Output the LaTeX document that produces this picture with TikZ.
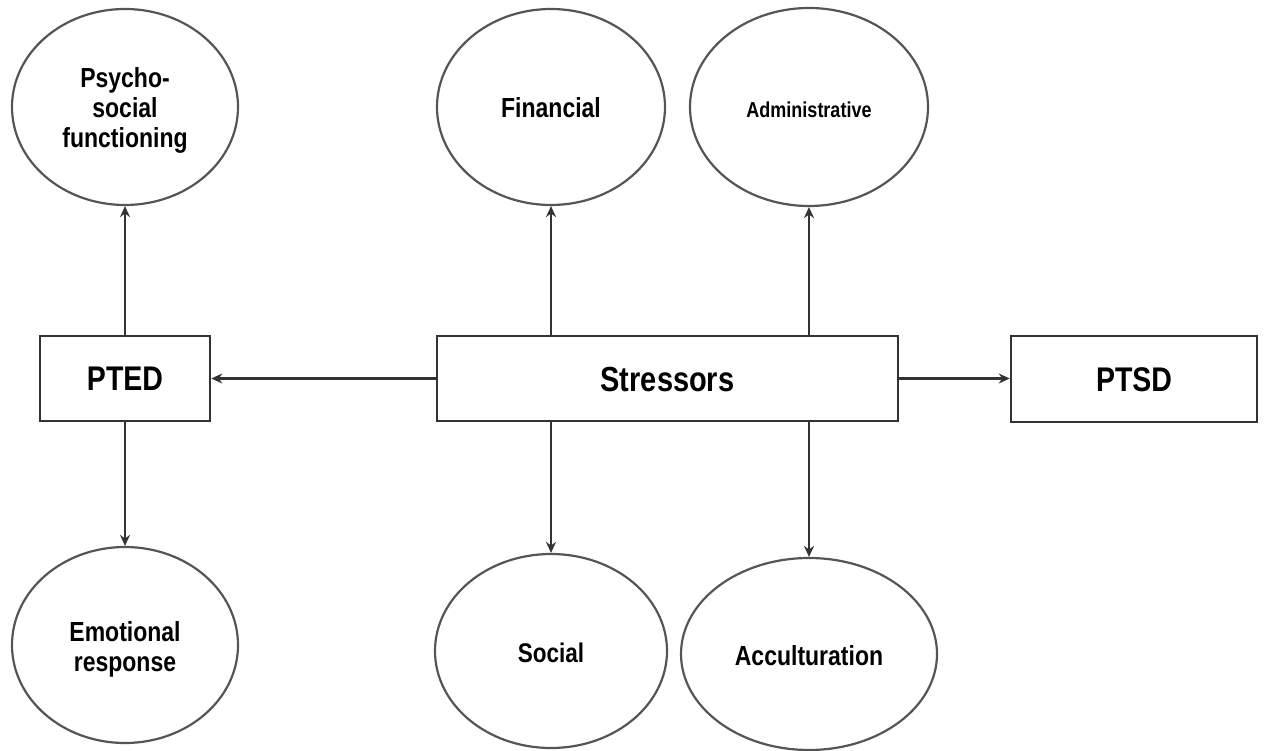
\documentclass[tikz,border=0pt]{standalone}
\usepackage{fontspec}
\setmainfont{Liberation Sans}
\usepackage{graphicx}
\usetikzlibrary{shapes.geometric,arrows.meta}
\definecolor{ellcol}{HTML}{555555}
\definecolor{boxcol}{HTML}{333333}
\newcommand{\lbl}[2]{\raisebox{-5pt}[\height][\depth]{\scalebox{1}[1.2]{\fontsize{#1}{25}\selectfont\bfseries\begin{tabular}{@{}c@{}}#2\end{tabular}}}}
\tikzset{
  oval/.style={ellipse, draw=ellcol, line width=2.2pt, inner sep=0pt},
  boxnode/.style={rectangle, draw=boxcol, line width=2.6pt, inner sep=0pt},
  arr/.style={draw=boxcol, line width=2.2pt, -{Stealth[length=11pt,width=10pt]}}
}
\begin{document}
\begin{tikzpicture}[x=1pt,y=-1pt]
\useasboundingbox (0,0) rectangle (1266,751);
% ovals
\node[oval, minimum width=226pt, minimum height=196pt] (psy) at (125,107) {\lbl{23}{Psycho-\\social\\functioning}};
\node[oval, minimum width=228pt, minimum height=196pt] (fin) at (551,107) {\lbl{23}{Financial}};
\node[oval, minimum width=238pt, minimum height=198pt] (adm) at (809,107) {\lbl{18}{Administrative}};
\node[oval, minimum width=226pt, minimum height=196pt] (emo) at (125,645) {\lbl{23}{Emotional\\response}};
\node[oval, minimum width=232pt, minimum height=194pt] (soc) at (551,651) {\lbl{22.5}{Social}};
\node[oval, minimum width=256pt, minimum height=192pt] (acc) at (809,654) {\lbl{23}{Acculturation}};
% boxes
\node[boxnode, minimum width=170pt, minimum height=85pt] (pted) at (125,378.5) {\lbl{28.5}{PTED}};
\node[boxnode, minimum width=461pt, minimum height=85pt] (str) at (667.5,378.5) {\lbl{29}{Stressors}};
\node[boxnode, minimum width=246pt, minimum height=86pt] (ptsd) at (1134,379) {\lbl{28.5}{PTSD}};
% connectors
\draw[arr] (str.west) -- (pted.east);
\draw[arr] (str.east) -- (ptsd.west |- str.east);
\draw[arr] (pted.north) -- (psy.south);
\draw[arr] (pted.south) -- (emo.north);
\draw[arr] (fin.south |- str.north) -- (fin.south);
\draw[arr] (adm.south |- str.north) -- (adm.south);
\draw[arr] (soc.north |- str.south) -- (soc.north);
\draw[arr] (acc.north |- str.south) -- (acc.north);
\end{tikzpicture}
\end{document}
